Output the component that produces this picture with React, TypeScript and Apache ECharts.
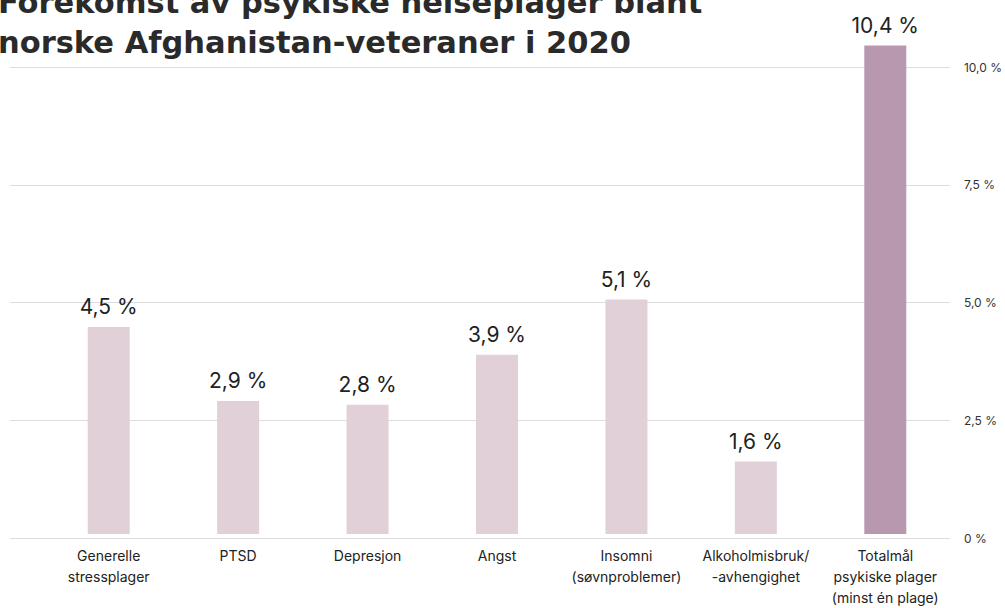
import React, { useEffect, useRef } from "react";
import * as echarts from "echarts";

const titleText = "Forekomst av psykiske helseplager blant\nnorske Afghanistan-veteraner i 2020";
const categories = [
  "Generelle\nstressplager",
  "PTSD",
  "Depresjon",
  "Angst",
  "Insomni\n(søvnproblemer)",
  "Alkoholmisbruk/\n-avhengighet",
  "Totalmål\npsykiske plager\n(minst én plage)",
];
const values = [4.43, 2.85, 2.77, 3.84, 5.02, 1.55, 10.46];
const valueLabels = ["4,5 %", "2,9 %", "2,8 %", "3,9 %", "5,1 %", "1,6 %", "10,4 %"];
const barColors = ["#e1d0d8", "#e1d0d8", "#e1d0d8", "#e1d0d8", "#e1d0d8", "#e1d0d8", "#b898af"];
const yTicks = [0, 2.5, 5, 7.5, 10];

const FONT = "Inter, sans-serif";
const TITLE_FONT = "'DejaVu Sans', sans-serif";

export default function App() {
  const ref = useRef<HTMLDivElement>(null);
  useEffect(() => {
    const chart = echarts.init(ref.current!, null, { renderer: "svg" });
    const yMin = yTicks[0];
    const yMax = yTicks[yTicks.length - 1];
    const yInterval = yTicks[1] - yTicks[0];
    chart.setOption({
      animation: false,
      backgroundColor: "#ffffff",
      textStyle: { fontFamily: FONT },
      title: {
        text: titleText,
        left: -2,
        top: -18,
        padding: 0,
        textStyle: {
          fontFamily: TITLE_FONT,
          fontSize: 30.5,
          fontWeight: "bold",
          color: "#2a2a2a",
          lineHeight: 40,
        },
      },
      grid: [
        { left: 44, right: 55, top: 67, bottom: 70 },
        { left: 10, right: 53, top: 67, bottom: 70 },
      ],
      xAxis: [
        {
          type: "category",
          gridIndex: 0,
          data: categories,
          axisLine: { show: false },
          axisTick: { show: false },
          axisLabel: {
            interval: 0,
            margin: 11,
            color: "#222222",
            fontSize: 14,
            lineHeight: 21,
            fontFamily: FONT,
          },
        },
        {
          type: "category",
          gridIndex: 1,
          data: ["a"],
          show: false,
        },
      ],
      yAxis: [
        {
          type: "value",
          gridIndex: 0,
          min: yMin,
          max: yMax,
          interval: yInterval,
          show: false,
          splitLine: { show: false },
        },
        {
          type: "value",
          gridIndex: 1,
          position: "right",
          min: yMin,
          max: yMax,
          interval: yInterval,
          axisLine: { show: false },
          axisTick: { show: false },
          splitLine: { show: true, lineStyle: { color: "#dddddd", width: 1 } },
          axisLabel: {
            margin: 14,
            color: "#333333",
            fontSize: 12,
            fontFamily: FONT,
            formatter: (v: number) => (v === 0 ? "0 %" : v.toFixed(1).replace(".", ",") + " %"),
          },
        },
      ],
      series: [
        {
          type: "bar",
          xAxisIndex: 0,
          yAxisIndex: 0,
          clip: false,
          barWidth: 42,
          z: 3,
          data: values.map((v, i) => ({
            value: v,
            itemStyle: { color: barColors[i] },
          })),
          label: {
            show: true,
            position: "top",
            distance: 10,
            fontSize: 21,
            color: "#222222",
            fontFamily: FONT,
            formatter: (p: any) => valueLabels[p.dataIndex],
          },
        },
      ],
    });
    return () => chart.dispose();
  }, []);
  return (
    <div
      ref={ref}
      style={{ position: "fixed", left: 0, top: 0, width: 1005, height: 608 }}
    />
  );
}
